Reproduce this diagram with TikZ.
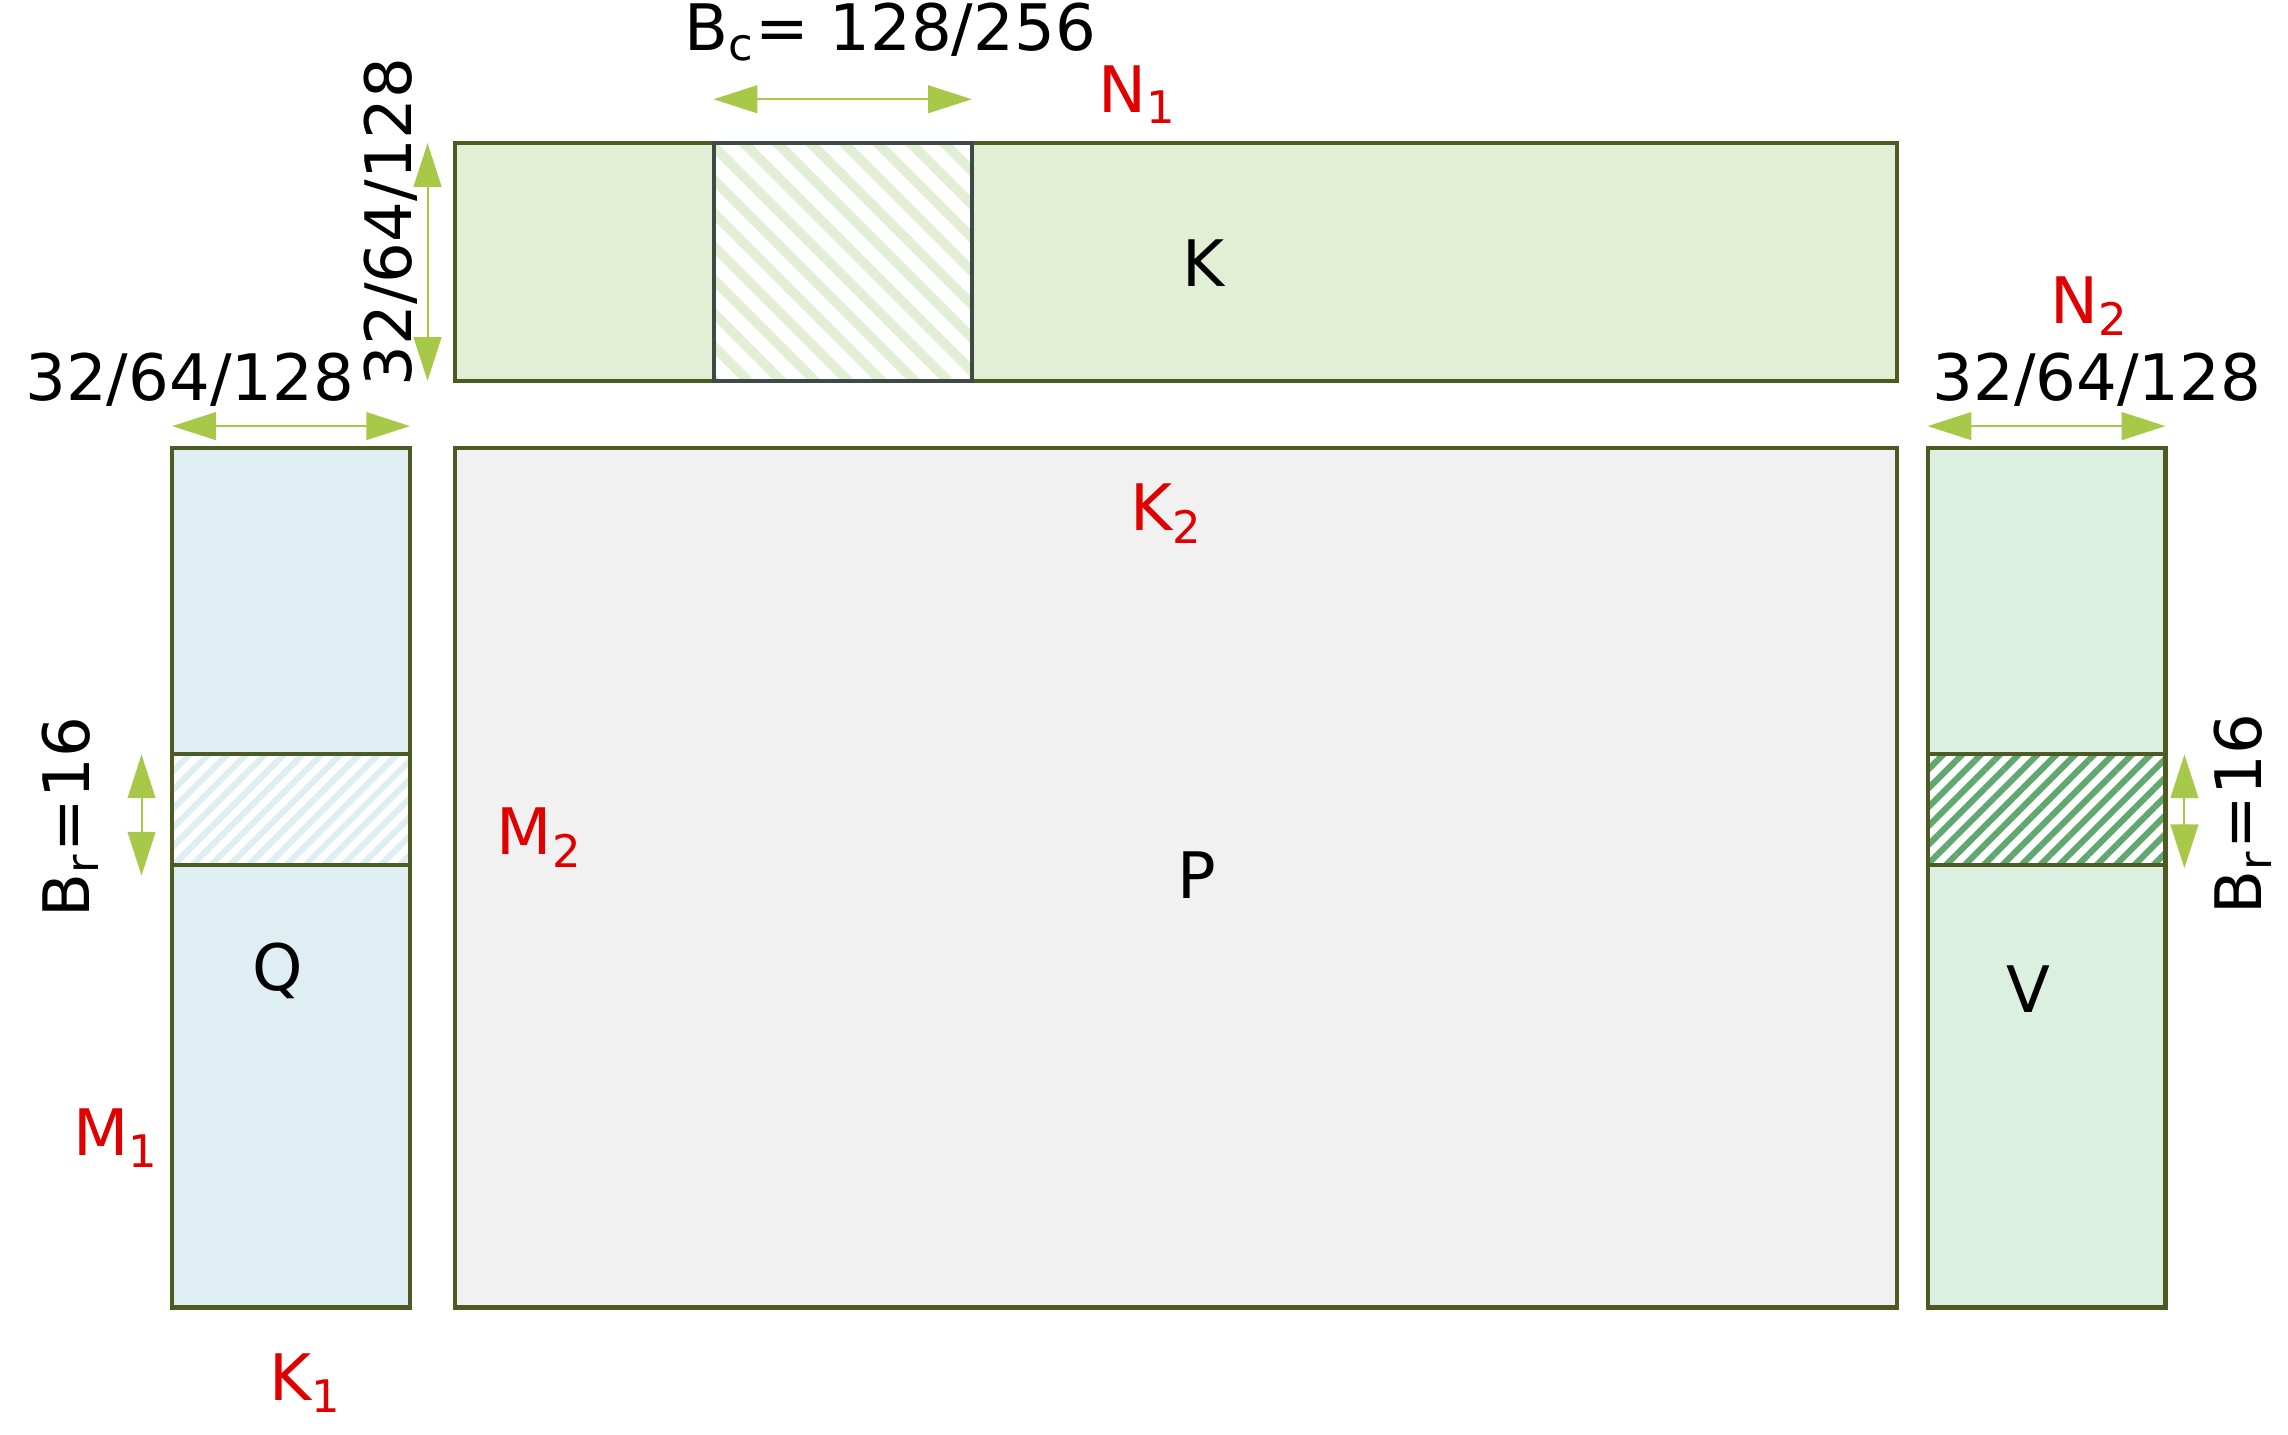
\documentclass[tikz,border=0pt]{standalone}
\usepackage{fontspec}
\setmainfont{DejaVu Sans}
\usepackage{xcolor}
\usetikzlibrary{arrows.meta,positioning,patterns.meta}

\definecolor{edge}{HTML}{4D5A22}
\definecolor{blkedge}{HTML}{3F4A46}
\definecolor{kfill}{HTML}{E2EFD5}
\definecolor{qfill}{HTML}{DFEEF3}
\definecolor{pfill}{HTML}{F1F1F1}
\definecolor{vfill}{HTML}{DCF0E1}
\definecolor{vhatch}{HTML}{60A870}
\definecolor{arrowc}{HTML}{A8C84A}
\definecolor{redc}{HTML}{E00000}

\begin{document}
\begin{tikzpicture}[>={Triangle[length=3mm,width=1.9mm]}, font=\fontsize{12.5}{15}\selectfont]
\tikzstyle{mat}=[draw=edge,line width=0.8pt,anchor=north west,inner sep=0pt,outer sep=0pt]
\tikzstyle{dim}=[<->,color=arrowc,line width=0.4pt]
\tikzstyle{redlab}=[text=redc]
\useasboundingbox (0,0) rectangle (15.68,-9.83);

% matrices
\node[mat,fill=kfill,minimum width=9.88cm,minimum height=1.63cm] (K) at (3.12,-0.98) {};
\node[mat,fill=qfill,minimum width=1.63cm,minimum height=5.89cm] (Q) at (1.18,-3.07) {};
\node[mat,fill=pfill,minimum width=9.88cm,minimum height=5.89cm] (P) at (3.12,-3.07) {};
\node[mat,fill=vfill,minimum width=1.63cm,minimum height=5.89cm] (V) at (13.21,-3.07) {};

% blocks
\node[mat,draw=blkedge,preaction={fill=white},pattern={Lines[angle=-45,distance=4.6pt,line width=1.9pt]},pattern color=kfill,minimum width=1.77cm,minimum height=1.63cm] (Kblk) at (4.89,-0.98) {};
\node[mat,preaction={fill=white},pattern={Lines[angle=45,distance=2.6pt,line width=1.2pt]},pattern color=qfill,minimum width=1.63cm,minimum height=0.76cm] (Qblk) at (1.18,-5.17) {};
\node[mat,preaction={fill=white},pattern={Lines[angle=45,distance=2.6pt,line width=1.2pt]},pattern color=vhatch,minimum width=1.63cm,minimum height=0.76cm] (Vblk) at (13.21,-5.17) {};

% names
\node (Klab) at (8.25,-1.80) {K};
\node (Qlab) at (1.90,-6.65) {Q};
\node (Plab) at (8.20,-6.00) {P};
\node (Vlab) at (13.90,-6.78) {V};

\node[redlab] (n1) at (7.80,-0.65) {N\textsubscript{1}};
\node[redlab] (n2) at (14.32,-2.10) {N\textsubscript{2}};
\node[redlab] (k1) at (2.10,-9.48) {K\textsubscript{1}};
\node[redlab] (k2) at (8.00,-3.52) {K\textsubscript{2}};
\node[redlab] (m1) at (0.80,-7.80) {M\textsubscript{1}};
\node[redlab] (m2) at (3.70,-5.74) {M\textsubscript{2}};

% sizes
\node (bc) at (6.10,-0.22) {B\textsubscript{c}= 128/256};
\draw[dim] ([yshift=3mm]Kblk.north west) -- ([yshift=3mm]Kblk.north east);
\node[rotate=90] (kh) at (2.68,-1.52) {32/64/128};
\draw[dim] ([xshift=-1.9mm]K.north west) -- ([xshift=-1.9mm]K.south west);
\node (qw) at (1.30,-2.60) {32/64/128};
\draw[dim] ([yshift=1.5mm]Q.north west) -- ([yshift=1.5mm]Q.north east);
\node (vw) at (14.37,-2.60) {32/64/128};
\draw[dim] ([yshift=1.5mm]V.north west) -- ([yshift=1.5mm]V.north east);
\node[rotate=90] (brl) at (0.48,-5.60) {B\textsubscript{r}=16};
\draw[dim] ([xshift=-2.1mm]Qblk.north west) -- ([xshift=-2.1mm,yshift=-0.7mm]Qblk.south west);
\node[rotate=90] (brr) at (15.37,-5.58) {B\textsubscript{r}=16};
\draw[dim] ([xshift=1.3mm]Vblk.north east) -- ([xshift=1.3mm,yshift=-0.2mm]Vblk.south east);
\end{tikzpicture}
\end{document}
